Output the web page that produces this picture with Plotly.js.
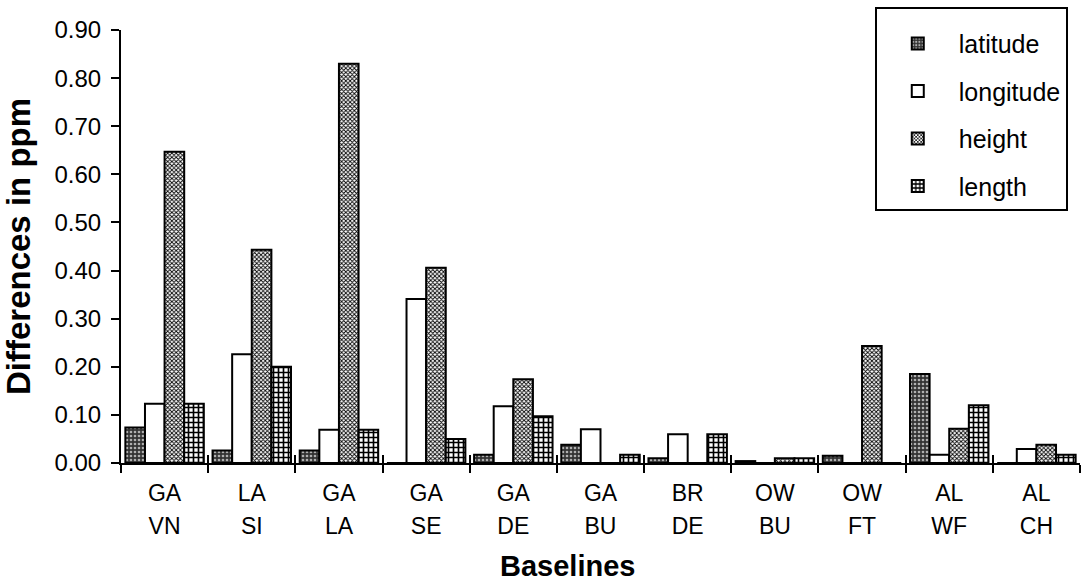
<!DOCTYPE html>
<html>
<head>
<meta charset="utf-8">
<script src="https://cdn.plot.ly/plotly-3.0.1.min.js"></script>
<style>html,body{margin:0;padding:0;background:#fff;}#chart{width:1086px;height:584px;}</style>
</head>
<body>
<div id="chart"></div>
<script>
// Data
const topLabels    = ["GA","LA","GA","GA","GA","GA","BR","OW","OW","AL","AL"];
const bottomLabels = ["VN","SI","LA","SE","DE","BU","DE","BU","FT","WF","CH"];
const categories   = topLabels.map((t, i) => t + "-" + bottomLabels[i]);

const latitude  = [0.074, 0.026, 0.026, 0.000, 0.017, 0.038, 0.010, 0.004, 0.015, 0.185, 0.000];
const longitude = [0.123, 0.226, 0.069, 0.341, 0.118, 0.070, 0.060, 0.000, 0.000, 0.017, 0.029];
const height    = [0.647, 0.443, 0.830, 0.406, 0.174, 0.000, 0.000, 0.010, 0.243, 0.071, 0.038];
const length    = [0.123, 0.200, 0.069, 0.050, 0.097, 0.017, 0.060, 0.010, 0.000, 0.120, 0.017];

const FONT = "Liberation Sans, Arial, Helvetica, sans-serif";
const outline = {color: "#000", width: 2};

function barTrace(name, values, pattern, group) {
  return {
    type: "bar", name: name, x: categories, y: values, legendgroup: group,
    marker: {color: pattern.bgcolor, line: outline, pattern: pattern},
    hoverinfo: "skip"
  };
}

const traces = [
  barTrace("latitude", latitude, {shape: ".", bgcolor: "#333333", fgcolor: "#b0b0b0", size: 4, solidity: 0.35}, "a"),
  barTrace("longitude", longitude, {shape: "", bgcolor: "#ffffff", fgcolor: "#ffffff"}, "b"),
  barTrace("height", height, {shape: "x", bgcolor: "#ffffff", fgcolor: "#000000", size: 3, solidity: 0.5}, "c"),
  barTrace("length", length, {shape: "+", bgcolor: "#ffffff", fgcolor: "#000000", size: 5, solidity: 0.55}, "d"),
  {type: "scatter", x: categories, y: categories.map(() => 0), xaxis: "x2", mode: "markers",
   marker: {opacity: 0}, showlegend: false, hoverinfo: "skip"}
];

const layout = {
  width: 1086, height: 584,
  margin: {l: 121, r: 6, t: 30, b: 121},
  paper_bgcolor: "#fff", plot_bgcolor: "#fff",
  font: {family: FONT, color: "#000", size: 23},
  barmode: "group", bargap: 0.1, bargroupgap: 0,
  showlegend: true,
  legend: {
    x: 0.786, y: 1.053, xanchor: "left", yanchor: "top",
    bordercolor: "#000", borderwidth: 2, bgcolor: "#fff",
    font: {family: FONT, size: 25},
    title: {text: " ", font: {family: FONT, size: 9}},
    traceorder: "grouped", tracegroupgap: 12, itemwidth: 72
  },
  xaxis: {
    type: "category", categoryarray: categories, range: [-0.5, 10.5],
    tickvals: categories, ticktext: topLabels,
    showline: true, linecolor: "#000", linewidth: 2,
    ticks: "outside", tickson: "boundaries", ticklen: 8, tickwidth: 2, tickcolor: "#000",
    showgrid: false, zeroline: false, automargin: false,
    ticklabelstandoff: 8,
    tickfont: {family: FONT, size: 23}
  },
  xaxis2: {
    type: "category", overlaying: "x", anchor: "y", side: "bottom",
    categoryarray: categories, range: [-0.5, 10.5],
    tickvals: categories, ticktext: bottomLabels,
    showline: false, ticks: "inside", tickson: "boundaries", ticklen: 8, tickwidth: 2, tickcolor: "#000",
    showgrid: false, zeroline: false, automargin: false,
    ticklabelstandoff: 47,
    tickfont: {family: FONT, size: 23}
  },
  yaxis: {
    range: [0, 0.9], dtick: 0.1, tick0: 0, tickformat: ".2f",
    showline: true, linecolor: "#000", linewidth: 2,
    ticks: "outside", ticklen: 8, tickwidth: 2, tickcolor: "#000",
    showgrid: false, zeroline: false, automargin: false,
    ticklabelstandoff: 5,
    tickfont: {family: FONT, size: 24},
    title: {text: "<b>Differences in ppm</b>", font: {family: FONT, size: 33}, standoff: 16}
  },
  yaxis2: {
    overlaying: "y", anchor: "x", side: "left",
    range: [0, 0.9], dtick: 0.1, tick0: 0,
    showline: false, ticks: "inside", ticklen: 8, tickwidth: 2, tickcolor: "#000",
    showticklabels: false, showgrid: false, zeroline: false, automargin: false
  },
  annotations: [{
    text: "<b>Baselines</b>", xref: "paper", yref: "paper",
    x: 0.466, y: -0.238, xanchor: "center", yanchor: "middle", showarrow: false,
    font: {family: FONT, size: 29, color: "#000"}
  }]
};

Plotly.newPlot("chart", traces, layout, {displayModeBar: false, staticPlot: true});
</script>
</body>
</html>
